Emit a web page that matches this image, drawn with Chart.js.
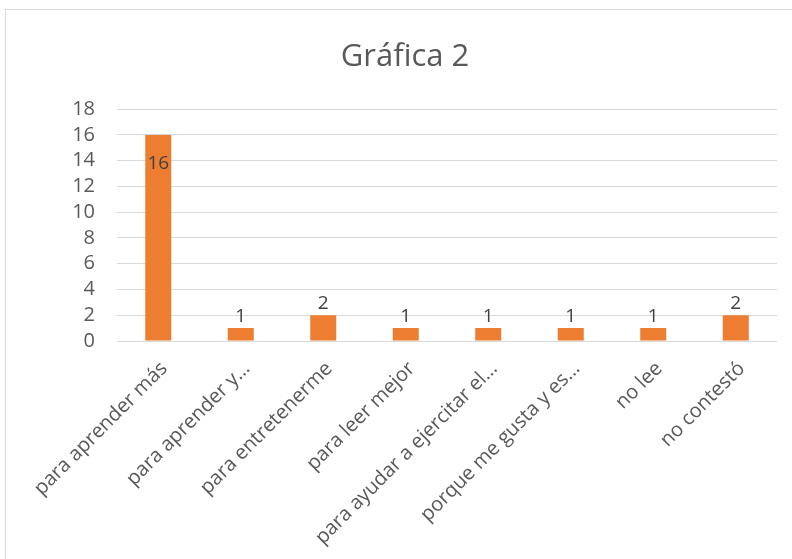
<!DOCTYPE html>
<html>
<head>
<meta charset="utf-8">
<script src="https://cdn.jsdelivr.net/npm/chart.js@4/dist/chart.umd.min.js"></script>
<style>
  body { margin: 0; background: #fff; overflow: hidden; }
  #frame { position: absolute; left: 5px; top: 9px; width: 900px; height: 700px; border: 1px solid #d9d9d9; }
  #chart { position: absolute; left: 5px; top: 9px; }
</style>
</head>
<body>
<div id="frame"></div>
<canvas id="chart" width="800" height="550"></canvas>
<script>
// categories as shown (Excel truncates the long ones)
var CATEGORIES = [
    "para aprender más",
    "para aprender y…",
    "para entretenerme",
    "para leer mejor",
    "para ayudar a ejercitar el…",
    "porque me gusta y es…",
    "no lee",
    "no contestó"
];
var VALUES = [16, 1, 2, 1, 1, 1, 1, 2];
var Y_MIN = 0;
var Y_MAX = 18;
var Y_STEP = 2;

const FONT = "'Open Sans', 'Liberation Sans', sans-serif";

// draws the value of every bar, above it or inside it when there is no room
const valueLabels = {
    id: "valueLabels",
    afterDatasetsDraw(chart) {
        var ctx = chart.ctx;
        var meta = chart.getDatasetMeta(0);
        ctx.save();
        ctx.font = "19px " + FONT;
        ctx.fillStyle = "#404040";
        ctx.textAlign = "center";
        ctx.textBaseline = "middle";
        meta.data.forEach((bar, i) => {
            var y;
            if (bar.y - 30 < chart.chartArea.top)
                y = bar.y + 29;
            else
                y = bar.y - 12;
            ctx.fillText(VALUES[i], bar.x, y);
        });
        ctx.restore();
    }
};

new Chart(document.getElementById("chart"), {
    type: "bar",
    data: {
        labels: CATEGORIES,
        datasets: [{
            data: VALUES,
            backgroundColor: "#ED7D31",
            categoryPercentage: 1,
            barPercentage: 0.315
        }]
    },
    options: {
        responsive: false,
        animation: false,
        devicePixelRatio: 1,
        layout: { padding: { left: 28, right: 28, top: 0, bottom: 0 } },
        plugins: {
            legend: { display: false },
            tooltip: { enabled: false },
            title: {
                display: true,
                text: "Gráfica 2",
                color: "#595959",
                font: { family: FONT, size: 31, weight: "normal" },
                padding: { top: 30, bottom: 33 }
            }
        },
        scales: {
            x: {
                grid: { display: false },
                border: { display: false },
                ticks: {
                    autoSkip: false,
                    maxRotation: 45,
                    minRotation: 45,
                    padding: 8,
                    labelOffset: 6,
                    color: "#595959",
                    font: { family: FONT, size: 20 }
                },
                afterFit(scale) { scale.height = 218; }
            },
            y: {
                min: Y_MIN,
                max: Y_MAX,
                grid: { color: "#d9d9d9", lineWidth: 1, drawTicks: false },
                border: { display: false },
                ticks: {
                    stepSize: Y_STEP,
                    autoSkip: false,
                    padding: 22,
                    color: "#595959",
                    font: { family: FONT, size: 20 }
                },
                afterFit(scale) { scale.width = 84; }
            }
        }
    },
    plugins: [valueLabels]
});
</script>
</body>
</html>
